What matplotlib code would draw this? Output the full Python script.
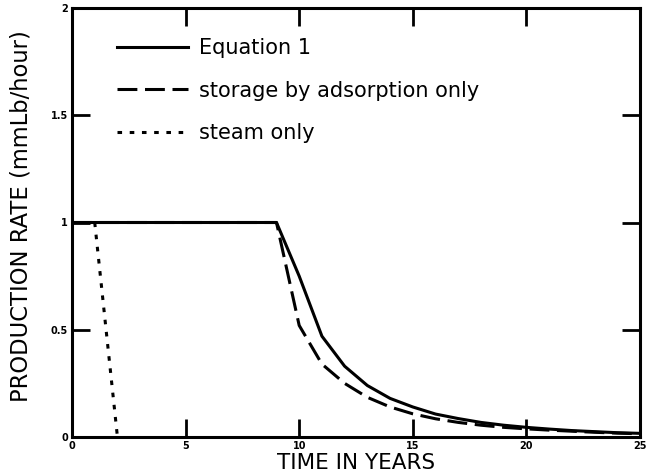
import matplotlib
matplotlib.use("Agg")
import matplotlib.pyplot as plt

# Data
eq1_x = [0, 9, 10, 11, 12, 13, 14, 15, 16, 17, 18, 19, 20, 21, 22, 23, 24, 25]
eq1_y = [1, 1, 0.75, 0.47, 0.33, 0.24, 0.18, 0.14, 0.107, 0.086, 0.068, 0.055, 0.045, 0.037, 0.03, 0.025, 0.02, 0.017]

ads_x = [0, 9, 10, 11, 12, 13, 14, 15, 16, 17, 18, 19, 20, 21, 22, 23, 24, 25]
ads_y = [1, 1, 0.52, 0.34, 0.25, 0.185, 0.14, 0.108, 0.085, 0.068, 0.055, 0.045, 0.038, 0.032, 0.027, 0.022, 0.018, 0.015]

steam_x = [1, 2]
steam_y = [1, 0]

x_ticks = [0, 5, 10, 15, 20, 25]
y_ticks = [0, 0.5, 1, 1.5, 2]
y_tick_labels = ["0", "0.5", "1", "1.5", "2"]

labels = ["Equation 1", "storage by adsorption only", "steam only"]

plt.rcParams['font.family'] = ['DejaVu Sans']

fig = plt.figure(figsize=(6.52, 4.76), dpi=100)
ax = fig.add_axes([72/652, 39/476, 568/652, 429/476])

lw = 2.2
ax.plot(eq1_x, eq1_y, color='black', lw=lw, label=labels[0])
ax.plot(ads_x, ads_y, color='black', lw=lw, linestyle=(0, (6.5, 2.5)), label=labels[1])
ax.plot(steam_x, steam_y, color='black', lw=lw, linestyle=(0, (1.5, 2.5)), label=labels[2])

ax.set_xlim(0, 25)
ax.set_ylim(0, 2)
ax.set_xticks(x_ticks)
ax.set_xticklabels([str(t) for t in x_ticks], fontsize=7, fontweight='bold')
ax.set_yticks(y_ticks)
ax.set_yticklabels(y_tick_labels, fontsize=7, fontweight='bold')
ax.tick_params(direction='in', length=13, width=2, top=True, right=True, pad=3)
for s in ax.spines.values():
    s.set_linewidth(2.2)

ax.set_xlabel("TIME IN YEARS", fontsize=15.5, labelpad=1)
ax.set_ylabel("PRODUCTION RATE (mmLb/hour)", fontsize=16.3)
ax.yaxis.set_label_coords(-0.0704, 0.515)

leg = ax.legend(loc='upper left', bbox_to_anchor=(0.046, 0.974), frameon=False,
                fontsize=15, handlelength=3.4, handletextpad=0.53, labelspacing=1.09)

fig.savefig("out.png", dpi=100)
